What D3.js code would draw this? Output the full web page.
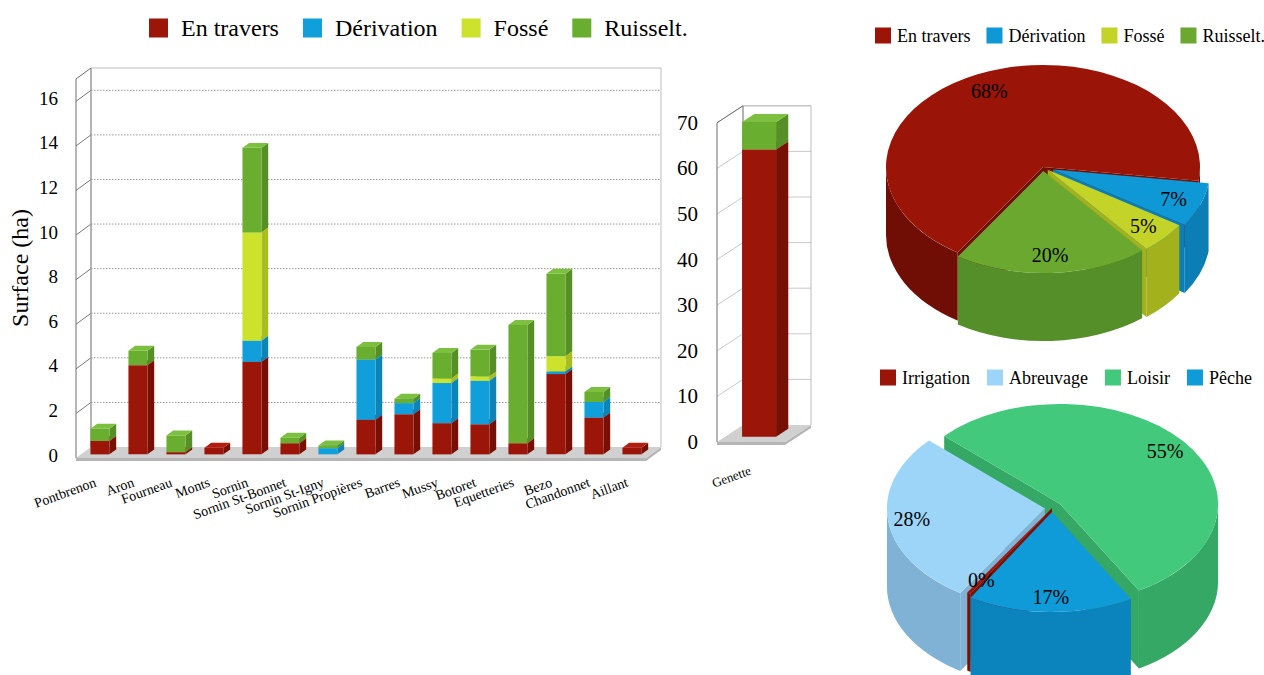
<!DOCTYPE html>
<html>
<head>
<meta charset="utf-8">
<script src="https://cdnjs.cloudflare.com/ajax/libs/d3/7.8.5/d3.min.js"></script>
<style>
  body { margin: 0; background: #fff; }
  svg { display: block; font-family: "Liberation Serif", "Times New Roman", serif; }
</style>
</head>
<body>
<div id="chart"></div>
<script>
// ---- data : surfaces (ha) by site and type
const sites = ["Pontbrenon", "Aron", "Fourneau", "Monts", "Sornin", "Sornin St-Bonnet", "Sornin St-Igny",
  "Sornin Propières", "Barres", "Mussy", "Botoret", "Equetteries", "Bezo", "Chandonnet", "Aillant"];
const enTravers  = [0.6, 4.0, 0.1, 0.3, 4.15, 0.5, 0, 1.55, 1.8, 1.4, 1.35, 0.5, 3.6, 1.65, 0.3];
const derivation = [0, 0, 0, 0, 0.95, 0, 0.28, 2.7, 0.5, 1.8, 1.95, 0, 0.12, 0.7, 0];
const fosse      = [0, 0, 0, 0, 4.85, 0, 0, 0, 0, 0.2, 0.2, 0, 0.68, 0, 0];
const ruisselt   = [0.55, 0.65, 0.75, 0, 3.8, 0.25, 0.12, 0.57, 0.2, 1.15, 1.2, 5.3, 3.7, 0.45, 0];
const leftTicks = d3.range(0, 17, 2);

const genetteSite = ["Genette"];
const genetteEnTravers = [63];
const genetteDerivation = [0];
const genetteFosse = [0];
const genetteRuisselt = [6];
const genetteTicks = d3.range(0, 71, 10);

// ---- data : pies (%)
const typeNames = ["En travers", "Dérivation", "Fossé", "Ruisselt."];
const typeShares = [68, 7, 5, 20];
const usageNames = ["Irrigation", "Abreuvage", "Loisir", "Pêche"];
const usageShares = [0.4, 28, 55, 17];

// ---- colours
const typeFront = ["#9c1509", "#119fdc", "#cde22a", "#6aae30"];
const typeSide  = ["#780f05", "#0b84ba", "#aabd1f", "#568f26"];
const typeTop   = ["#b31d10", "#33b3e8", "#dcee4c", "#7dc040"];
const pieTypeTop  = ["#9a1508", "#0f98d6", "#c4d327", "#6aa82f"];
const pieTypeSide = ["#700d05", "#0b7fb5", "#a3b11d", "#558f2a"];
const usageTop  = ["#9b1409", "#9dd5f8", "#42c97b", "#0f9ad8"];
const usageSide = ["#7a0f06", "#80b2d6", "#35a866", "#0b84bd"];

const width = 1264, height = 675;
const svg = d3.select('#chart').append('svg')
  .attr('width', width)
  .attr('height', height);

const line = d3.line();

// 3D stacked bar panel
function barPanel(p) {
  const g = svg.append('g');
  const x = d3.scaleBand().domain(p.names).range([p.x0, p.x1]);
  const y = p.y;
  const top = y.domain()[1];
  const pt = (xv, v, f) => [xv + f * p.dx, y(v) + f * p.dy];

  // back wall + side wall grid
  p.ticks.filter(t => t > 0).forEach(t => {
    g.append('path')
      .attr('d', line([pt(p.x0, t, 1), pt(p.x1, t, 1)]))
      .attr('fill', 'none')
      .attr('stroke', p.grid)
      .attr('stroke-dasharray', p.dash);
    g.append('path')
      .attr('d', line([pt(p.x0, t, 0), pt(p.x0, t, 1)]))
      .attr('fill', 'none')
      .attr('stroke', p.sideGrid);
  });

  // wall borders
  g.append('path')
    .attr('d', line([pt(p.x0, 0, 1), pt(p.x0, top, 1), pt(p.x1, top, 1), pt(p.x1, 0, 1)]))
    .attr('fill', 'none')
    .attr('stroke', '#bdbdbd');
  g.append('path')
    .attr('d', line([pt(p.x0, 0, 1), pt(p.x0, top, 1)]))
    .attr('stroke', '#8a8a8a');

  // floor
  const f0 = pt(p.x0, 0, 0), f1 = pt(p.x1, 0, 0), f2 = pt(p.x1, 0, 1), f3 = pt(p.x0, 0, 1);
  g.append('path')
    .attr('d', line([f0, f1, f2, [f2[0], f2[1] + 3], [f1[0], f1[1] + 3], [f0[0], f0[1] + 3]]) + 'Z')
    .attr('fill', '#b5b5b5');
  g.append('path')
    .attr('d', line([f0, f1, f2, f3]) + 'Z')
    .attr('fill', '#d0d0d0');

  // front axis
  g.append('path')
    .attr('d', line([pt(p.x0, 0, 0), pt(p.x0, top, 0), pt(p.x0, top, 1)]))
    .attr('fill', 'none')
    .attr('stroke', '#6e6e6e');

  // bars
  const rows = p.names.map((n, i) => p.series.map(s => s[i]));
  const stacked = d3.stack().keys(d3.range(p.series.length))(rows);
  const bw = x.bandwidth() * p.barFrac;
  const d0 = p.depth[0], d1 = p.depth[1];
  p.names.forEach((n, i) => {
    const bx0 = x(n) + (x.bandwidth() - bw) / 2, bx1 = bx0 + bw;
    stacked.forEach((layer, k) => {
      const v0 = layer[i][0], v1 = layer[i][1];
      if (v1 - v0 <= 0) return;
      g.append('path')
        .attr('d', line([pt(bx1, v0, d0), pt(bx1, v0, d1), pt(bx1, v1, d1), pt(bx1, v1, d0)]) + 'Z')
        .attr('fill', typeSide[k]);
      g.append('path')
        .attr('d', line([pt(bx0, v0, d0), pt(bx1, v0, d0), pt(bx1, v1, d0), pt(bx0, v1, d0)]) + 'Z')
        .attr('fill', typeFront[k]);
      g.append('path')
        .attr('d', line([pt(bx0, v1, d0), pt(bx1, v1, d0), pt(bx1, v1, d1), pt(bx0, v1, d1)]) + 'Z')
        .attr('fill', typeTop[k]);
    });
  });

  // tick labels
  g.selectAll('.tick')
    .data(p.ticks)
    .enter()
    .append('text')
    .attr('x', p.labelX)
    .attr('y', d => y(d) + p.labelDy)
    .attr('text-anchor', 'end')
    .attr('dominant-baseline', 'central')
    .style('font-size', p.tickFont + 'px')
    .text(d => d);

  // category labels
  g.selectAll('.cat')
    .data(p.names)
    .enter()
    .append('text')
    .attr('transform', d => `translate(${x(d) + x.bandwidth() / 2 + p.catDx},${p.catY}) rotate(-20)`)
    .attr('text-anchor', 'end')
    .style('font-size', p.catFont + 'px')
    .text(d => d);
}

barPanel({
  names: sites,
  series: [enTravers, derivation, fosse, ruisselt],
  x0: 76, x1: 646, dx: 15, dy: -11,
  y: d3.scaleLinear().domain([0, 17]).range([458, 79]),
  ticks: leftTicks,
  grid: '#9a9a9a', dash: '1.5,1.5', sideGrid: '#7a7a7a',
  barFrac: 0.5, depth: [0.33, 0.78],
  labelX: 58, labelDy: -3, tickFont: 19,
  catDx: 2, catY: 486, catFont: 14
});

barPanel({
  names: genetteSite,
  series: [genetteEnTravers, genetteDerivation, genetteFosse, genetteRuisselt],
  x0: 717, x1: 785, dx: 26, dy: -17,
  y: d3.scaleLinear().domain([0, 70]).range([442, 122.8]),
  ticks: genetteTicks,
  grid: '#c9c9c9', dash: null, sideGrid: '#c9c9c9',
  barFrac: 0.5, depth: [0.31, 0.78],
  labelX: 698, labelDy: 0, tickFont: 21,
  catDx: 1, catY: 474, catFont: 13
});

// y axis title
svg.append('text')
  .attr('transform', 'translate(28,268) rotate(-90)')
  .attr('text-anchor', 'middle')
  .style('font-size', '24px')
  .text('Surface (ha)');

// legends
function legend(names, colors, x, y, size, font, textDx, gap) {
  const g = svg.append('g');
  let cx = x;
  names.forEach((n, i) => {
    g.append('rect')
      .attr('x', cx)
      .attr('y', y - size / 2)
      .attr('width', size)
      .attr('height', size)
      .attr('fill', colors[i]);
    const t = g.append('text')
      .attr('x', cx + textDx)
      .attr('y', y)
      .attr('dominant-baseline', 'central')
      .style('font-size', font + 'px')
      .text(n);
    cx += textDx + t.node().getComputedTextLength() + gap;
  });
}

legend(typeNames, typeFront, 149, 28, 19, 24, 32, 24);
legend(typeNames, pieTypeTop, 875, 35.5, 16, 18, 22, 16);
legend(usageNames, usageTop, 880, 377.5, 16, 18, 22, 17);

// 3D pie
function pie3d(p) {
  const g = svg.append('g');
  const tot = d3.sum(p.values);
  const arcs = d3.pie().sort(null)(p.values);
  const s0 = p.start * Math.PI / 180;
  const sl = arcs.map((a, i) => {
    const a0 = s0 + a.startAngle, a1 = s0 + a.endAngle, m = (a0 + a1) / 2;
    return {
      i, a0, a1, m, v: a.value,
      ox: p.explode[i] * p.rx * Math.cos(m),
      oy: p.explode[i] * p.ry * Math.sin(m)
    };
  });
  const P = (s, a, r, z) => [p.cx + s.ox + r * p.rx * Math.cos(a), p.cy + s.oy + r * p.ry * Math.sin(a) + z];
  const arcTo = (s, a0, a1, z, sweep) => {
    const e = P(s, a1, 1, z);
    const large = Math.abs(a1 - a0) > Math.PI ? 1 : 0;
    return `A${p.rx},${p.ry} 0 ${large} ${sweep} ${e[0]},${e[1]}`;
  };

  // cut faces, back ones first
  const faces = [];
  sl.forEach(s => {
    [[s.a0, Math.cos(s.a0) < 0], [s.a1, Math.cos(s.a1) > 0]].forEach(([a, vis]) => {
      if (vis) faces.push({ s, a });
    });
  });
  faces.sort((u, w) => Math.sin(u.a) - Math.sin(w.a));
  faces.forEach(({ s, a }) => {
    const c = P(s, 0, 0, 0), r = P(s, a, 1, 0);
    g.append('path')
      .attr('d', `M${c}L${r}L${r[0]},${r[1] + p.h}L${c[0]},${c[1] + p.h}Z`)
      .attr('fill', p.side[s.i]);
  });

  // outer walls (front half only)
  sl.forEach(s => {
    for (let k = -1; k <= 2; k++) {
      const lo = Math.max(s.a0, 2 * Math.PI * k), hi = Math.min(s.a1, 2 * Math.PI * k + Math.PI);
      if (hi - lo <= 1e-6) continue;
      const t0 = P(s, lo, 1, 0), b1 = P(s, hi, 1, p.h);
      g.append('path')
        .attr('d', `M${t0}${arcTo(s, lo, hi, 0, 1)}L${b1}${arcTo(s, hi, lo, p.h, 0)}Z`)
        .attr('fill', p.side[s.i]);
    }
  });

  // tops
  sl.forEach(s => {
    g.append('path')
      .attr('d', `M${P(s, 0, 0, 0)}L${P(s, s.a0, 1, 0)}${arcTo(s, s.a0, s.a1, 0, 1)}Z`)
      .attr('fill', p.top[s.i]);
  });

  // percentages
  sl.forEach(s => {
    const c = P(s, s.m, p.labelR, 0);
    g.append('text')
      .attr('x', c[0])
      .attr('y', c[1])
      .attr('text-anchor', 'middle')
      .attr('dominant-baseline', 'central')
      .style('font-size', '20px')
      .text(Math.round(s.v / tot * 100) + '%');
  });
}

pie3d({
  values: typeShares, top: pieTypeTop, side: pieTypeSide,
  cx: 1043, cy: 167, rx: 157, ry: 102, h: 68, start: 123,
  explode: [0, 0.068, 0.04, 0.04], labelR: 0.82
});

pie3d({
  values: usageShares, top: usageTop, side: usageSide,
  cx: 1052, cy: 508, rx: 158, ry: 100, h: 78, start: 121,
  explode: [0, 0.045, 0.065, 0.04], labelR: 0.85
});
</script>
</body>
</html>
